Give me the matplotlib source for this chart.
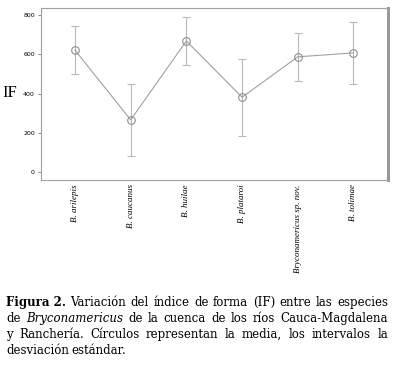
import matplotlib.pyplot as plt

species = ["B. arilepis", "B. caucanus", "B. huilae", "B. plataroi",
           "Bryconamericus sp. nov.", "B. tolimae"]
means = [622, 265, 669, 381, 588, 608]
sd = [124, 185, 124, 198, 124, 160]
yticks = [0, 200, 400, 600, 800]

caption = [
    [("Figura 2.", "bold"), ("Variación", ""), ("del", ""), ("índice", ""), ("de", ""),
     ("forma", ""), ("(IF)", ""), ("entre", ""), ("las", ""), ("especies", "")],
    [("de", ""), ("Bryconamericus", "italic"), ("de", ""), ("la", ""), ("cuenca", ""),
     ("de", ""), ("los", ""), ("ríos", ""), ("Cauca-Magdalena", "")],
    [("y", ""), ("Ranchería.", ""), ("Círculos", ""), ("representan", ""), ("la", ""),
     ("media,", ""), ("los", ""), ("intervalos", ""), ("la", "")],
    [("desviación", ""), ("estándar.", "")],
]

fig = plt.figure(figsize=(3.96, 3.69), dpi=100)
W, H = 396, 369
ax = fig.add_axes([41 / W, 1 - 180 / H, (388 - 41) / W, (180 - 8) / H])

x = list(range(1, len(species) + 1))
ax.errorbar(x, means, yerr=sd, fmt="none", ecolor="#b8b8b8", elinewidth=0.8,
            capsize=3, capthick=0.8)
ax.plot(x, means, "-", color="#a0a0a0", lw=0.8)
ax.plot(x, means, "o", mfc="none", mec="#909090", ms=5.5, mew=0.8)

ax.set_xlim(0.39, 6.62)
ax.set_ylim(-43, 838)
ax.set_yticks(yticks)
ax.set_yticklabels([str(t) for t in yticks], fontsize=4.5, family="DejaVu Sans")
ax.set_xticks(x)
ax.set_xticklabels(species, rotation=90, fontsize=6.5, family="Liberation Serif",
                   style="italic", va="top", ha="center")
ax.tick_params(axis="y", length=2.5, width=0.6, color="#777777", pad=2)
ax.tick_params(axis="x", length=0, pad=3)
for s in ["left", "top", "bottom"]:
    ax.spines[s].set_color("#a0a0a0")
    ax.spines[s].set_linewidth(0.8)
ax.spines["right"].set_color("#999999")
ax.spines["right"].set_linewidth(2.2)

fig.text(10 / W, 1 - 93 / H, "IF", fontsize=12, family="Liberation Serif",
         ha="center", va="center")

# caption, justified by hand
renderer = fig.canvas.get_renderer()
left, right = 6, 388
ys = [306, 322, 338, 354]
fs = 8.5
for i, (line, yy) in enumerate(zip(caption, ys)):
    arts = []
    for word, st in line:
        kw = dict(fontsize=fs, family="DejaVu Serif", va="baseline", ha="left")
        if st == "bold":
            kw["fontweight"] = "bold"
        if st == "italic":
            kw["style"] = "italic"
        arts.append(fig.text(0, 1 - yy / H, word, **kw))
    widths = [a.get_window_extent(renderer).width for a in arts]
    if i < len(caption) - 1:
        gap = (right - left - sum(widths)) / (len(arts) - 1)
    else:
        gap = fs * 0.35
    xx = left
    for a, w in zip(arts, widths):
        a.set_x(xx / W)
        xx += w + gap

fig.savefig("out.png", dpi=100)
